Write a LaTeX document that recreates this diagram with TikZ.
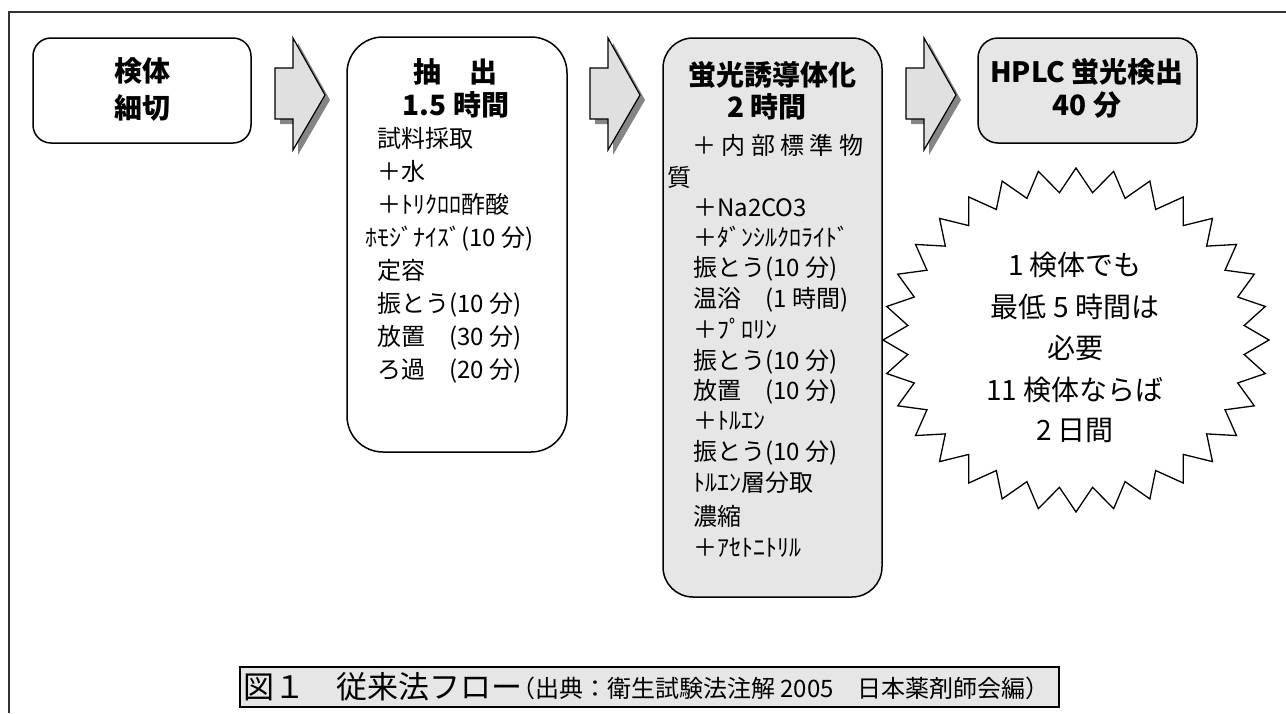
\documentclass[tikz,border=0pt]{standalone}
\usepackage{fontspec}
\setmainfont{Noto Sans CJK JP}
\definecolor{boxgray}{HTML}{E6E6E6}
\definecolor{arrowgray}{HTML}{E0E0E0}
\definecolor{shadowgray}{HTML}{858585}
\definecolor{framegray}{HTML}{333333}
\tikzset{
  stage/.style={draw, line width=1.5pt, inner sep=0pt, rectangle},
  t24/.style={inner sep=0pt, font=\fontsize{24}{24}\selectfont, text height=21.1pt, text depth=2.9pt},
  t28/.style={inner sep=0pt, font=\fontsize{28}{28}\selectfont, text height=24.6pt, text depth=3.4pt},
  b28/.style={inner sep=0pt, font=\fontsize{28}{28}\selectfont\bfseries, text height=24.6pt, text depth=3.4pt},
  capbig/.style={inner sep=0pt, font=\fontsize{31}{31}\selectfont, text height=27.3pt, text depth=3.7pt},
  capsmall/.style={inner sep=0pt, font=\fontsize{24}{24}\selectfont, text height=21.1pt, text depth=2.9pt},
  blockarrow/.pic={
    \fill[shadowgray] (5,35) -- (23,35) -- (23,5) -- (55,62) -- (23,117) -- (23,86) -- (5,86) -- cycle;
    \draw[fill=arrowgray, line width=1.2pt, line join=miter] (0,30) -- (18,30) -- (18,0) -- (50,57) -- (18,112) -- (18,81) -- (0,81) -- cycle;
  }
}
\begin{document}
\begin{tikzpicture}[x=1pt,y=-1pt]
\useasboundingbox (0,0) rectangle (1286,713);
\fill[white] (0,0) rectangle (1286,713);
\draw[line width=1.5pt, framegray] (9,713) -- (9,12) -- (1286,12);

% stage boxes
\node[stage, fill=white, rounded corners=18pt, minimum width=218pt, minimum height=105pt] (b1) at (142,90.5) {};
\node[stage, fill=white, rounded corners=36pt, minimum width=220pt, minimum height=415pt] (b2) at (457,244.5) {};
\node[stage, fill=boxgray, rounded corners=30pt, minimum width=219pt, minimum height=559pt] (b3) at (772.5,317.5) {};
\node[stage, fill=boxgray, rounded corners=20pt, minimum width=219pt, minimum height=105pt] (b4) at (1087.5,90.5) {};

% block arrows
\pic (a1) at (275,38) {blockarrow};
\pic (a2) at (590,38) {blockarrow};
\pic (a3) at (906,38) {blockarrow};

% box 1
\node[b28] (t1a) at (142,71) {検体};
\node[b28] (t1b) at (142,108) {細切};

% box 2
\node[b28] (t2a) at (455,72) {抽　出};
\node[b28] (t2b) at (456,105) {1.5 時間};
\node[t24, anchor=west] (t2c) at (377,138) {試料採取};
\node[t24, anchor=west] (t2d) at (377,171) {＋水};
\node[t24, anchor=west] (t2e) at (377,204) {＋ﾄﾘｸﾛﾛ酢酸};
\node[t24, anchor=west] (t2f) at (365,237) {ﾎﾓｼﾞﾅｲｽﾞ(10 分)};
\node[t24, anchor=west] (t2g) at (377,270) {定容};
\node[t24, anchor=west] (t2h) at (377,303) {振とう(10 分)};
\node[t24, anchor=west] (t2i) at (377,336) {放置　(30 分)};
\node[t24, anchor=west] (t2j) at (377,369) {ろ過　(20 分)};

% box 3
\node[b28] (t3a) at (772,75) {蛍光誘導体化};
\node[b28] (t3b) at (767,107) {2 時間};
\node[t24, anchor=west] (t3c) at (692,145) {\makebox[171pt]{＋\hfill 内\hfill 部\hfill 標\hfill 準\hfill 物}};
\node[t24, anchor=west] (t3d) at (667,177) {質};
\node[t24, anchor=west] (t3e) at (693,207) {＋Na2CO3};
\node[t24, anchor=west] (t3f) at (693,237) {＋ﾀﾞﾝｼﾙｸﾛﾗｲﾄﾞ};
\node[t24, anchor=west] (t3g) at (693,267) {振とう(10 分)};
\node[t24, anchor=west] (t3h) at (693,298) {温浴　(1 時間)};
\node[t24, anchor=west] (t3i) at (693,329) {＋ﾌﾟﾛﾘﾝ};
\node[t24, anchor=west] (t3j) at (693,360) {振とう(10 分)};
\node[t24, anchor=west] (t3k) at (693,390) {放置　(10 分)};
\node[t24, anchor=west] (t3l) at (693,420) {＋ﾄﾙｴﾝ};
\node[t24, anchor=west] (t3m) at (693,451) {振とう(10 分)};
\node[t24, anchor=west] (t3n) at (693,482) {ﾄﾙｴﾝ層分取};
\node[t24, anchor=west] (t3o) at (693,516) {濃縮};
\node[t24, anchor=west] (t3p) at (693,547) {＋ｱｾﾄﾆﾄﾘﾙ};

% box 4
\node[b28] (t4a) at (1087,72) {HPLC 蛍光検出};
\node[b28] (t4b) at (1087,105) {40 分};

% starburst
\draw[line width=1.3pt, fill=white, line join=miter] (1269,340)
  \foreach \k in {0,...,31} {
    -- ({1076+169*cos(\k*11.25+5.625)},{340-148*sin(\k*11.25+5.625)})
    -- ({1076+193*cos((\k+1)*11.25)},{340-172*sin((\k+1)*11.25)})
  } -- cycle;
\node[t28] (s1) at (1075,265) {1 検体でも};
\node[t28] (s2) at (1075,307) {最低 5 時間は};
\node[t28] (s3) at (1075,348) {必要};
\node[t28] (s4) at (1075,390) {11 検体ならば};
\node[t28] (s5) at (1075,430) {2 日間};

% caption
\node[draw, line width=2.6pt, fill=boxgray, inner sep=0pt, minimum width=819pt, minimum height=40pt] (cap) at (649.5,687) {};
\node[capbig, anchor=west] (capa) at (243,687) {図１　従来法フロー};
\node[capsmall, anchor=east] (capb) at (1050,688) {（出典：衛生試験法注解 2005　日本薬剤師会編）};
\end{tikzpicture}
\end{document}
